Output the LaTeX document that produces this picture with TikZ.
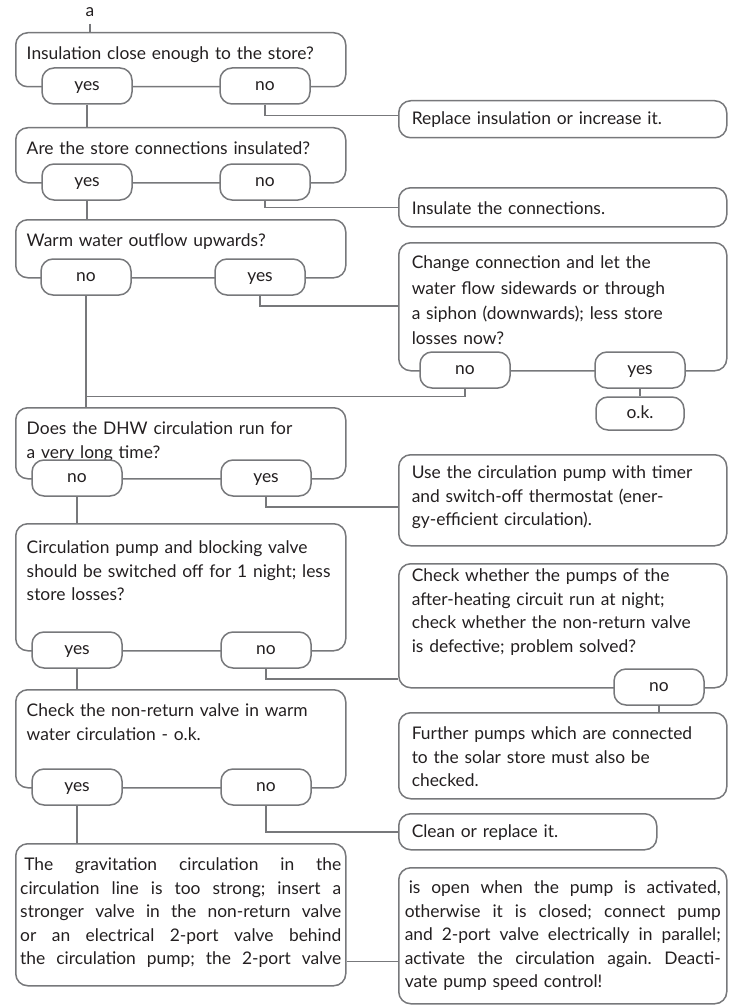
\documentclass[tikz,border=0pt]{standalone}
\usepackage{fontspec}
\setmainfont{Lato}
\usetikzlibrary{calc}
\definecolor{linegray}{HTML}{77787B}
\definecolor{txtgray}{HTML}{231F20}
\newcommand{\jl}[1]{\makebox[\hsize][s]{\spaceskip=0pt\xspaceskip=0pt\relax#1}}

\begin{document}
\begin{tikzpicture}[
    x=0.5pt, y=-0.5pt,
    every node/.style={font=\fontsize{8.7}{11.75}\selectfont\frenchspacing, text=txtgray},
    box/.style={draw=linegray, line width=0.75pt, rounded corners=6pt, anchor=north west,
      inner xsep=6.5pt, inner ysep=0pt, align=left, text height=13.5pt},
    qbox/.style={box, inner xsep=5.5pt, text width=154pt},
    rbox/.style={box, text width=151pt},
    pill/.style={draw=linegray, fill=white, line width=0.75pt, rounded corners=6pt,
      minimum width=45pt, minimum height=18pt, inner sep=0pt, text height=6pt, text depth=1.2pt},
    link/.style={draw=linegray, line width=0.75pt}
  ]
  \useasboundingbox (0,0) rectangle (733,1006);

  % left column: questions
  \node (a) at (90,12) {a};
  \node[qbox, text depth=13.5pt] (q1) at (15,32) {Insulation close enough to the store?};
  \node[qbox, text depth=14pt] (q2) at (15,127) {Are the store connections insulated?};
  \node[qbox, text depth=15.5pt] (q3) at (15,219) {Warm water outflow upwards?};
  \node[qbox, text depth=22pt] (q4) at (15,407) {Does the DHW circulation run for\\a very long time?};
  \node[qbox, text height=15pt, text depth=48.5pt] (q5) at (15,523)
    {Circulation pump and blocking valve\\should be switched off for 1 night; less\\store losses?};
  \node[qbox, text depth=35.5pt] (q6) at (15,689) {Check the non-return valve in warm\\water circulation - o.k.};
  \node[box, inner xsep=2.25pt, text width=160.5pt, text depth=57.5pt] (q7) at (15,843)
    {\jl{\hspace{2pt}The gravitation circulation in the}\\
     \jl{circulation line is too strong; insert a}\\
     \jl{stronger valve in the non-return valve}\\
     \jl{or an electrical 2-port valve behind}\\
     \jl{the circulation pump; the 2-port valve}};

  % right column: actions
  \node[rbox, text height=12pt, text depth=6.5pt] (r1) at (398,100) {Replace insulation or increase it.};
  \node[rbox, text depth=6pt] (r2) at (398,187) {Insulate the connections.};
  \node[rbox, text height=13pt, text depth=51pt, font=\fontsize{8.7}{12.65}\selectfont] (r3) at (398,242)
    {Change connection and let the\\water flow sidewards or through\\a siphon (downwards); less store\\losses now?};
  \node[rbox, text height=12pt, text depth=33.5pt] (r4) at (398,454)
    {Use the circulation pump with timer\\and switch-off thermostat (ener-\\gy-efficient circulation).};
  \node[rbox, text height=9pt, text depth=53pt] (r5) at (398,563)
    {Check whether the pumps of the\\after-heating circuit run at night;\\check whether the non-return valve\\is defective; problem solved?};
  \node[rbox, text depth=29.5pt] (r6) at (398,712)
    {Further pumps which are connected\\to the solar store must also be\\checked.};
  \node[box, text width=116pt, text height=12pt, text depth=6pt] (r7) at (398,813) {Clean or replace it.};
  \node[box, inner xsep=3pt, text width=158pt, text height=13pt, text depth=55pt] (r8) at (398,867)
    {\jl{\hspace{2pt}is open when the pump is activated,}\\
     \jl{otherwise it is closed; connect pump}\\
     \jl{and 2-port valve electrically in parallel;}\\
     \jl{activate the circulation again. Deacti-}\\
     vate pump speed control!};

  % answers
  \node[pill] (q1yes) at (87,86)  {yes};
  \node[pill] (q1no)  at (265,86) {no};
  \node[pill] (q2yes) at (87,182) {yes};
  \node[pill] (q2no)  at (265,182) {no};
  \node[pill] (q3no)  at (86,277) {no};
  \node[pill] (q3yes) at (260,277) {yes};
  \node[pill] (q4no)  at (77,478) {no};
  \node[pill] (q4yes) at (266,478) {yes};
  \node[pill] (q5yes) at (77,650) {yes};
  \node[pill] (q5no)  at (266,650) {no};
  \node[pill] (q6yes) at (77,787) {yes};
  \node[pill] (q6no)  at (266,787) {no};
  \node[pill] (r3no)  at (465,370) {no};
  \node[pill] (r3yes) at (640,370) {yes};
  \node[pill, minimum width=44pt, minimum height=16.5pt] (r3ok) at (640,413.5) {o.k.};
  \node[pill] (r5no)  at (659,687) {no};

  % connectors
  \draw[link] (a.south) -- (a.south |- q1.north);
  \draw[link] (q1yes.south) -- (q1yes.south |- q2.north);
  \draw[link] (q1no.south) |- ($(q1no.south -| r1.west)+(0,11)$);
  \draw[link] (q2yes.south) -- (q2yes.south |- q3.north);
  \draw[link] (q2no.south) |- (r2.west);
  \draw[link] (q3no.south) -- (q3no.south |- q4.north);
  \draw[link] (q3yes.south) |- ($(q3yes.south -| r3.west)+(0,10)$);
  \coordinate (mrg) at (q3no.south |- r3ok.north);
  \draw[link] (r3no.south) |- (mrg);
  \draw[link] (r3yes.south) -- (r3ok.north);
  \draw[link] (q4no.south) -- (q4no.south |- q5.north);
  \draw[link] (q4yes.south) |- ($(q4yes.south -| r4.west)+(0,10)$);
  \draw[link] (q5yes.south) -- (q5yes.south |- q6.north);
  \draw[link] (q5no.south) |- ($(q5no.south -| r5.west)+(0,10)$);
  \draw[link] (r5no.south) -- (r5no.south |- r6.north);
  \draw[link] (q6yes.south) -- (q6yes.south |- q7.north);
  \draw[link] (q6no.south) |- (r7.west);
  \coordinate (q7r8) at ($(r8.south west)+(0,-43)$);
  \draw[link] (q7.east |- q7r8) -- (q7r8);
\end{tikzpicture}
\end{document}
